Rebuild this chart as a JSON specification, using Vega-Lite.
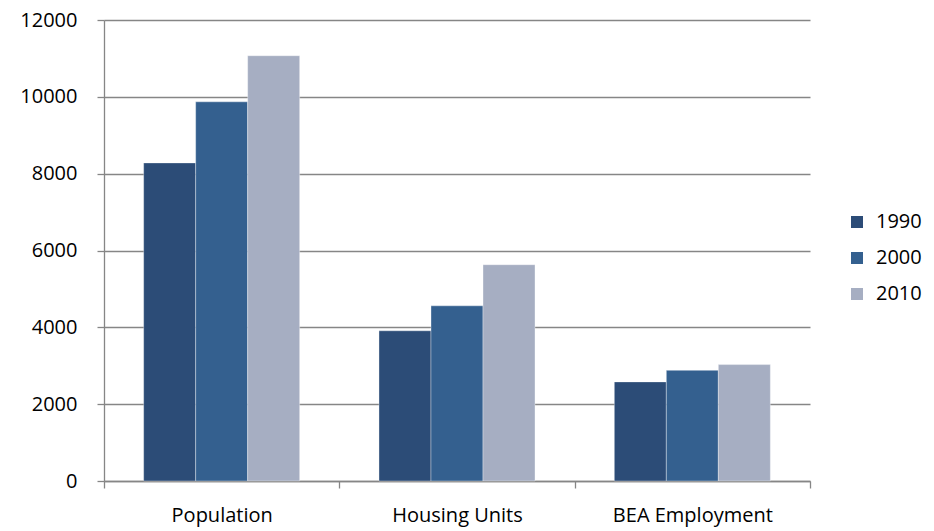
{
  "$schema": "https://vega.github.io/schema/vega-lite/v6.json",
  "autosize": "none",
  "width": 706,
  "height": 461,
  "padding": {"left": 104, "top": 20, "right": 124, "bottom": 50},
  "background": "white",
  "config": {
    "font": "Open Sans",
    "view": {"stroke": null},
    "axis": {"labelFont": "Open Sans", "labelColor": "#000000", "labelFontSize": 20, "domainColor": "#868686", "tickColor": "#868686", "gridColor": "#868686", "domainWidth": 1.3, "tickWidth": 1.3, "gridWidth": 1.3}
  },
  "data": {
    "values": [
      {"category": "Population", "year": "1990", "value": 8280},
      {"category": "Population", "year": "2000", "value": 9870},
      {"category": "Population", "year": "2010", "value": 11070},
      {"category": "Housing Units", "year": "1990", "value": 3910},
      {"category": "Housing Units", "year": "2000", "value": 4560},
      {"category": "Housing Units", "year": "2010", "value": 5630},
      {"category": "BEA Employment", "year": "1990", "value": 2580},
      {"category": "BEA Employment", "year": "2000", "value": 2880},
      {"category": "BEA Employment", "year": "2010", "value": 3030}
    ]
  },
  "mark": {"type": "bar", "stroke": "#ffffff", "strokeOpacity": 0.35, "strokeWidth": 1},
  "encoding": {
    "x": {"field": "category", "type": "nominal", "sort": ["Population", "Housing Units", "BEA Employment"],
      "scale": {"paddingInner": 0, "paddingOuter": 0},
      "axis": {"title": null, "labelAngle": 0, "ticks": true, "tickSize": 7, "tickBand": "extent", "domain": true, "labelPadding": 17, "grid": false}},
    "xOffset": {"field": "year", "type": "nominal", "scale": {"paddingInner": 0, "paddingOuter": 0.7625}},
    "y": {"field": "value", "type": "quantitative",
      "scale": {"domain": [0, 12000], "nice": false},
      "axis": {"title": null, "values": [0, 2000, 4000, 6000, 8000, 10000, 12000], "format": "d", "grid": true, "tickSize": 7, "labelPadding": 20, "domain": true}},
    "color": {"field": "year", "type": "nominal",
      "scale": {"domain": ["1990", "2000", "2010"], "range": ["#2c4c77", "#34608f", "#a6aec2"]},
      "legend": {"title": null, "orient": "none", "legendX": 743, "legendY": 192, "symbolType": "square", "symbolSize": 144, "symbolStrokeWidth": 0, "labelFontSize": 20, "labelFont": "Open Sans", "labelColor": "#000000", "rowPadding": 16, "labelOffset": 9}}
  }
}
